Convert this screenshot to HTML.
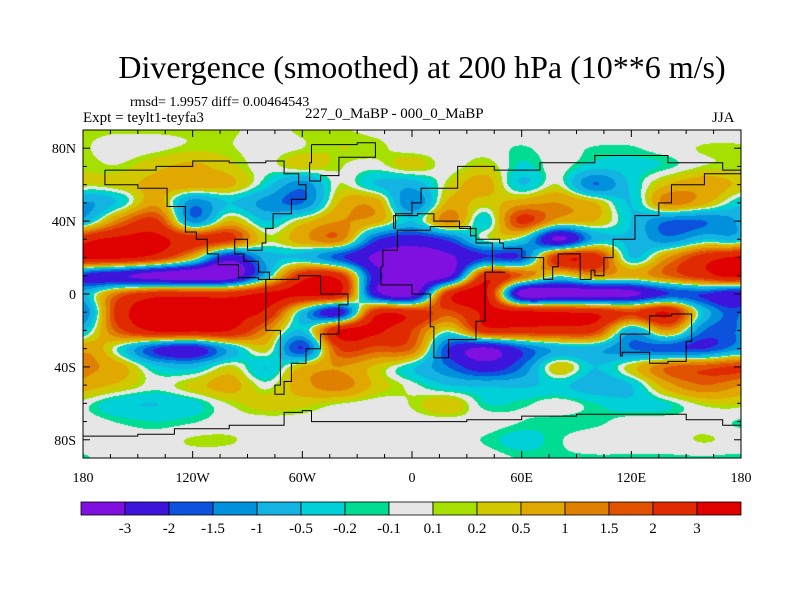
<!DOCTYPE html>
<html><head><meta charset="utf-8">
<style>
body{margin:0;background:#fff;}
#wrap{position:relative;width:800px;height:600px;overflow:hidden;background:#fff;font-family:"Liberation Serif",serif;}
.t{position:absolute;white-space:nowrap;color:#000;}
canvas{position:absolute;left:83px;top:130px;}
svg{position:absolute;left:0;top:0;}
</style></head>
<body>
<div id="wrap">
<div class="t" style="left:0;width:844px;text-align:center;top:49px;font-size:32px;">Divergence (smoothed) at 200 hPa (10**6 m/s)</div>
<div class="t" style="left:130px;top:95px;font-size:14px;">rmsd= 1.9957 diff= 0.00464543</div>
<div class="t" style="left:83px;top:110px;font-size:15px;">Expt = teylt1-teyfa3</div>
<div class="t" style="left:305px;top:106px;font-size:15px;">227_0_MaBP - 000_0_MaBP</div>
<div class="t" style="left:712px;top:110px;font-size:15px;">JJA</div>
<canvas id="map" width="658" height="328"></canvas>
<svg id="ov" width="800" height="600"></svg>
</div>
<script>
const levels=[-3,-2,-1.5,-1,-0.5,-0.2,-0.1,0.1,0.2,0.5,1,1.5,2,3];
const colors=["#7f10e0","#3c14dc","#0c52dc","#0090dc","#14b4e2","#00d0d8","#00dc92","#e6e6e6","#a6e000","#d2c800","#e0a800","#e08000","#e05200","#e02a00","#e00000"];
const lons=[-180,-160,-140,-120,-100,-80,-60,-40,-20,0,20,40,60,80,100,120,140,160,180];
const lats=[90,80,70,60,50,40,30,20,10,0,-10,-20,-30,-40,-50,-60,-70,-80,-90];
const r90=[0.12,0.12,0.12,0.12,0.12,0.05,0.12,0.12,0.05,0,0,0,0,0,0,0,0,0,0];
const r80=[0.12,0,0.05,0.15,0.12,0,0.1,0.2,0.15,0,0,0,-0.12,0,-0.12,-0.12,0,0.12,0.12];
const r70=[0.15,0.12,0.4,0.6,0.3,0,0.3,0.12,0,0.3,0,0.25,-0.25,0,-0.35,-0.3,-0.15,0.12,0.12];
const r60=[0.2,0.3,0.7,0.8,0.6,-0.3,-1.3,0.1,-0.5,-0.8,0.2,0.7,-0.5,0.1,-1.5,-0.4,0.5,0.8,0.4];
const r50=[-1,-0.4,0.8,-1.3,-0.5,-1.2,-1.5,0.5,0.8,-1.5,0.6,0.3,0.8,1,0.5,-0.5,1.2,0.6,-0.4];
const r40=[-0.8,1.3,2.2,-1.2,0.5,-0.5,0.3,1,0.7,-0.5,1.2,-0.4,2.2,0.7,0.5,-0.5,-1.5,-1.5,-0.8];
const r30=[2.5,3.2,3.2,2.5,2.2,0.2,0.8,1.3,-1.8,-2.5,-1.8,0,-0.3,-3.2,-0.8,-0.6,-1.3,-0.5,-0.4];
const r20=[3.2,3.2,2.5,0.5,-2.5,-0.8,-0.6,-1.8,-3.2,-3.5,-3.2,-2,-1.8,2.5,2.5,-0.5,1,2.5,3.2];
const r10=[-2,-2.8,-3.5,-3.8,-3.8,-0.7,2.5,2.5,-2.5,-3.5,-3.2,2.5,1.5,0,1,0.6,1.5,2.5,3];
const r00=[-0.8,1.5,2.5,2.5,2.5,3.2,3.2,3,-2.5,-3.5,2.5,3.2,-3.5,-3.5,-3.5,-3.3,-2,-2,-2.5];
const rs10=[-1.5,2.5,3.5,3.5,3.2,2.8,-0.5,-2.5,2.5,2.5,1.8,3.2,3.2,3,2.8,2,3,-0.6,-1.5];
const rs20=[-0.6,1.8,3.2,3.2,3,1.2,-0.5,3,3.2,2,0.1,2.5,2.5,2.5,2.2,-0.8,1,-1.5,-1.3];
const rs30=[0.8,-0.2,-2,-2.5,-0.8,0.3,-2,2,1.8,1.5,-2,-3.2,-1.8,-0.8,-0.8,-1.5,-1.8,-2,-1];
const rs40=[1.2,0.7,-0.4,-0.6,0.2,-0.5,0.5,1,0.4,-0.4,-1.5,-2.5,-1.5,0.4,-0.5,0.3,1.5,1.8,2];
const rs50=[0.8,0.4,0,0.3,0.7,0,0.8,1.3,0.4,0,-0.5,-0.6,-0.6,-0.4,-0.8,-0.5,0.8,1.5,1];
const rs60=[0,-0.4,-0.5,-0.3,0.12,0.3,0.3,0.12,0,0.12,0.4,-0.2,-0.15,0,-0.2,-0.4,-0.2,0.2,0.2];
const rs70=[0,-0.12,-0.2,-0.12,0,0,0,0,0,0,0,0,-0.1,-0.15,-0.15,0,0,0,-0.12];
const rs80=[0,0,0,0.12,0.12,0,0,0,0,0,0,-0.12,-0.3,-0.12,0,0,0,0.12,0];
const rs90=[-0.12,0,0,0,0,0,0,0,0,0,0,0,-0.12,-0.12,-0.12,-0.12,-0.12,-0.12,-0.12];
const field=[r90,r80,r70,r60,r50,r40,r30,r20,r10,r00,rs10,rs20,rs30,rs40,rs50,rs60,rs70,rs80,rs90];

const X0=83,X1=741,Y0=130,Y1=458;
function xOf(lon){return X0+(lon+180)/360*(X1-X0);}
function yOf(lat){return Y0+(90-lat)/180*(Y1-Y0);}
function levelIdx(v){let i=0;while(i<levels.length&&v>=levels[i])i++;return i;}
function cr(p0,p1,p2,p3,t){return 0.5*((2*p1)+(-p0+p2)*t+(2*p0-5*p1+4*p2-p3)*t*t+(-p0+3*p1-3*p2+p3)*t*t*t);}
function sample(lon,lat){
  const nx=lons.length,ny=lats.length;
  const fx=(lon-lons[0])/(lons[1]-lons[0]);
  const fy=(lats[0]-lat)/(lats[0]-lats[1]);
  const ix=Math.min(nx-2,Math.max(0,Math.floor(fx))),iy=Math.min(ny-2,Math.max(0,Math.floor(fy)));
  const tx=fx-ix,ty=fy-iy;
  const gx=i=>{if(i<0)return i+nx-1;if(i>nx-1)return i-(nx-1);return i;};
  const gy=j=>Math.max(0,Math.min(ny-1,j));
  const rows=[];
  for(let j=-1;j<=2;j++){const r=field[gy(iy+j)];rows.push(cr(r[gx(ix-1)],r[gx(ix)],r[gx(ix+1)],r[gx(ix+2)],tx));}
  return cr(rows[0],rows[1],rows[2],rows[3],ty);
}
const cv=document.getElementById('map'),ctx=cv.getContext('2d');
const W=cv.width,H=cv.height,img=ctx.createImageData(W,H);
const rgb=colors.map(c=>[parseInt(c.substr(1,2),16),parseInt(c.substr(3,2),16),parseInt(c.substr(5,2),16)]);
for(let py=0;py<H;py++){const lat=90-(py+0.5)/H*180;
 for(let px=0;px<W;px++){const lon=-180+(px+0.5)/W*360;
  const c=rgb[levelIdx(sample(lon,lat))];const k=(py*W+px)*4;
  img.data[k]=c[0];img.data[k+1]=c[1];img.data[k+2]=c[2];img.data[k+3]=255;}}
ctx.putImageData(img,0,0);

const NS='http://www.w3.org/2000/svg';
const ov=document.getElementById('ov');
function mk(tag,attrs){const e=document.createElementNS(NS,tag);for(const k in attrs)e.setAttribute(k,attrs[k]);ov.appendChild(e);return e;}
const coasts={
 'north-america':[[-168,68],[-140,70],[-120,73],[-100,72],[-80,73],[-70,66],[-62,60],[-58,52],[-66,44],[-76,36],[-80,28],[-82,24],[-90,30],[-97,22],[-92,18],[-84,12],[-78,8],[-84,9],[-95,16],[-106,22],[-112,30],[-118,34],[-124,42],[-124,48],[-134,58],[-150,60],[-165,60],[-168,68]],
 'greenland':[[-55,82],[-30,83],[-20,75],[-40,65],[-50,62],[-56,72],[-55,82]],
 'south-america':[[-80,8],[-62,10],[-50,0],[-35,-6],[-40,-22],[-50,-30],[-58,-38],[-66,-48],[-70,-55],[-75,-50],[-72,-20],[-80,-5],[-80,8]],
 'africa':[[-17,15],[-16,24],[-8,35],[10,37],[32,32],[35,28],[44,12],[51,12],[40,-5],[40,-15],[35,-25],[20,-35],[12,-18],[10,0],[0,5],[-10,5],[-17,15]],
 'eurasia':[[-10,36],[-9,44],[0,50],[5,58],[12,58],[25,70],[45,68],[70,72],[100,76],[140,72],[170,68],[180,66],[160,60],[142,50],[135,43],[122,38],[122,30],[110,20],[105,10],[100,13],[98,8],[92,22],[80,15],[77,8],[72,20],[60,25],[50,28],[48,30],[35,36],[26,40],[20,40],[12,44],[3,43],[-10,36]],
 'australia':[[114,-22],[130,-12],[137,-12],[142,-11],[153,-26],[150,-37],[140,-38],[130,-32],[115,-34],[114,-22]],
 'antarctica':[[-180,-78],[-150,-77],[-130,-74],[-100,-72],[-70,-65],[-60,-64],[-55,-70],[0,-70],[30,-69],[60,-67],[90,-66],[130,-66],[150,-69],[170,-72],[180,-78]]
};
for(const name in coasts){
 const pts=coasts[name];let d='';
 for(let i=0;i<pts.length;i++){const x=xOf(pts[i][0]),y=yOf(pts[i][1]);
  if(i===0)d+='M'+x.toFixed(1)+' '+y.toFixed(1);
  else{const py=yOf(pts[i-1][1]);d+=' L'+x.toFixed(1)+' '+py.toFixed(1)+' L'+x.toFixed(1)+' '+y.toFixed(1);}}
 const p=mk('path',{d:d,fill:'none',stroke:'#000','stroke-width':1});
 
 
}
const frame=mk('rect',{x:X0,y:Y0,width:X1-X0,height:Y1-Y0,fill:'none',stroke:'#000','stroke-width':1});


for(let lon=-180;lon<=180;lon+=15){const x=xOf(lon),L=(lon%60===0)?7:4;
 const t1=mk('line',{x1:x,y1:Y1,x2:x,y2:Y1-L,stroke:'#000'});
 
 
 const t2=mk('line',{x1:x,y1:Y0,x2:x,y2:Y0+L,stroke:'#000'});
 
 }
for(let lat=-90;lat<=90;lat+=10){const y=yOf(lat),L=(lat%40===0)?7:4;
 const t1=mk('line',{x1:X0,y1:y,x2:X0+L,y2:y,stroke:'#000'});
 
 
 const t2=mk('line',{x1:X1,y1:y,x2:X1-L,y2:y,stroke:'#000'});
 
 }
const xTickVals=[-180,-120,-60,0,60,120,180];
const xTickLabels=['180','120W','60W','0','60E','120E','180'];
xTickVals.forEach((v,i)=>{const t=mk('text',{x:xOf(v),y:482,'text-anchor':'middle','font-size':14,'font-family':'Liberation Serif, serif'});t.textContent=xTickLabels[i];
 
 });
const yTickVals=[80,40,0,-40,-80];
const yTickLabels=['80N','40N','0','40S','80S'];
yTickVals.forEach((v,i)=>{const t=mk('text',{x:76,y:yOf(v)+5,'text-anchor':'end','font-size':14,'font-family':'Liberation Serif, serif'});t.textContent=yTickLabels[i];
 
 });
const CB0=81,CBW=44,CBY=502,CBH=13;
colors.forEach((c,i)=>{const r=mk('rect',{x:CB0+i*CBW,y:CBY,width:CBW,height:CBH,fill:c,stroke:'#000','stroke-width':0.8});
 
 });
levels.forEach((v,i)=>{const t=mk('text',{x:CB0+(i+1)*CBW,y:533,'text-anchor':'middle','font-size':15,'font-family':'Liberation Serif, serif'});t.textContent=String(v);
 
 });
</script>
</body></html>
